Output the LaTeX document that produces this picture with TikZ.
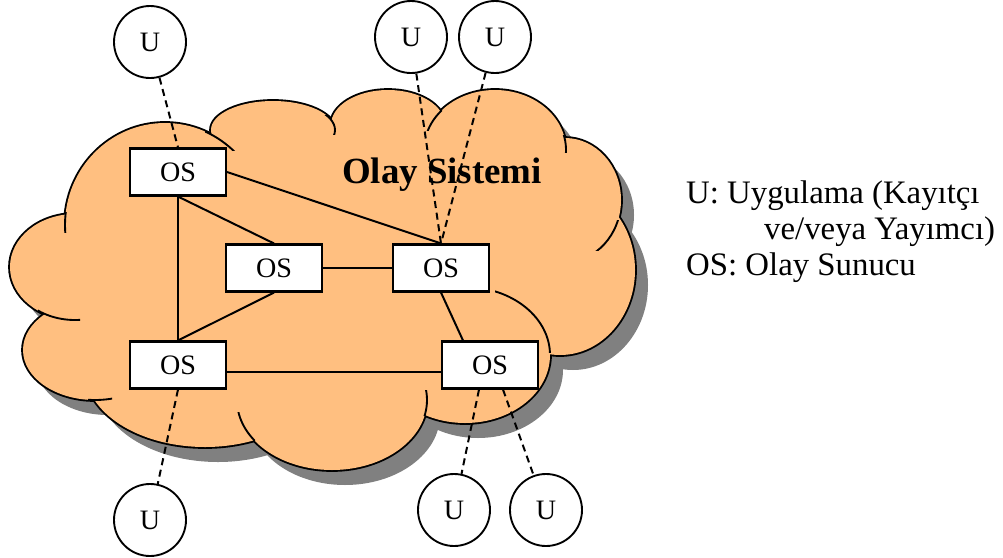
\documentclass[tikz,border=0pt]{standalone}
\usepackage{fontspec}
\setmainfont{Liberation Serif}
\usepackage{tikz}
\usetikzlibrary{calc}

\definecolor{cloudorange}{RGB}{255,191,128}
\definecolor{cloudshadow}{RGB}{128,128,128}

\newcommand{\cloudbumps}{75/267/65/53, 165/225/100/102, 273/130/62/29, 388/125/57/35,
  495/150/71/60, 565/200/56/62, 560/270/75/85, 465/355/85/68, 332/400/95/70,
  205/370/120/77, 95/350/72/50}

\tikzset{
  osbox/.style={draw, line width=1.8pt, fill=white, minimum width=2.88cm, minimum height=1.41cm,
    inner sep=0pt, font=\fontsize{24}{24}\selectfont},
  ububble/.style={draw, circle, line width=1.6pt, fill=white, minimum size=2.16cm,
    inner sep=0pt, font=\fontsize{24}{24}\selectfont},
  cloudline/.style={line width=1.6pt},
  link/.style={line width=1.7pt},
  ulink/.style={line width=1.7pt, dash pattern=on 6pt off 4pt},
  legend/.style={anchor=base west, inner sep=0pt, font=\fontsize{28}{28}\selectfont}
}

\begin{document}
\begin{tikzpicture}[x=0.03cm, y=-0.03cm]
    \useasboundingbox (0,0) rectangle (1003,558);

    % shadow
    \foreach \cx/\cy/\rx/\ry in \cloudbumps
        \fill[cloudshadow] (\cx+13,\cy+15) ellipse [x radius=\rx, y radius=\ry];
    \fill[cloudshadow, shift={(13,15)}] (90,270) -- (170,160) -- (275,140) -- (390,130) -- (495,135) -- (560,180)
        -- (590,240) -- (545,330) -- (465,390) -- (330,440) -- (205,420) -- (95,370) -- cycle;

    % cloud
    \foreach \cx/\cy/\rx/\ry in \cloudbumps
        \draw[line width=3.2pt] (\cx,\cy) ellipse [x radius=\rx, y radius=\ry];
    \foreach \cx/\cy/\rx/\ry in \cloudbumps
        \fill[cloudorange] (\cx,\cy) ellipse [x radius=\rx, y radius=\ry];
    \fill[cloudorange] (90,270) -- (170,160) -- (275,140) -- (390,130) -- (495,135) -- (560,180)
        -- (590,240) -- (545,330) -- (465,390) -- (330,440) -- (205,420) -- (95,370) -- cycle;

    % inner curls
    \foreach \cx/\cy/\rx/\ry/\xa/\ya/\xb/\yb in {165/225/100/102/60/212/72/232, 165/225/100/102/205/130/235/150,
        273/130/62/29/320/115/340/134, 495/150/71/60/420/108/442/130, 495/150/71/60/555/135/570/152,
        565/200/56/62/588/220/625/250, 465/355/85/68/495/288/556/352, 332/400/95/70/415/390/432/415,
        332/400/95/70/230/412/255/440, 95/350/72/50/88/390/112/402, 75/267/65/53/38/300/80/322}
    {
        \begin{scope}
            \clip (\xa,\ya) rectangle (\xb,\yb);
            \draw[cloudline] (\cx,\cy) ellipse [x radius=\rx, y radius=\ry];
        \end{scope}
    }

    \node[anchor=base, inner sep=0pt, font=\bfseries\fontsize{31.5}{32}\selectfont] (title) at (442,183) {Olay Sistemi};

    \node[osbox] (os1) at (178,172) {OS};
    \node[osbox] (os2) at (274,268) {OS};
    \node[osbox] (os3) at (441,268) {OS};
    \node[osbox] (os4) at (178,365) {OS};
    \node[osbox] (os5) at (490,365) {OS};

    \node[ububble] (u1) at (150,42) {U};
    \node[ububble] (u2) at (411,37) {U};
    \node[ububble] (u3) at (495,37) {U};
    \node[ububble] (u4) at (150,520) {U};
    \node[ububble] (u5) at (454,510) {U};
    \node[ububble] (u6) at (546,510) {U};

    \draw[link] (os1.east) -- (os3.north);
    \draw[link] (os1.south) -- (os2.north);
    \draw[link] (os1.south) -- (os4.north);
    \draw[link] (os2.south) -- (os4.north);
    \draw[link] (os2.east) -- (os3.west);
    \draw[link] (os3.south) -- ($(os5.north)+(-27,0)$);
    \draw[link] ($(os4.east)+(0,7)$) -- ($(os5.west)+(0,7)$);

    \draw[ulink] (u1) -- (os1.north);
    \draw[ulink] (u2) -- (os3.north);
    \draw[ulink] (u3) -- (os3.north);
    \draw[ulink] (os4.south) -- (u4);
    \draw[ulink] ($(os5.south)+(-11,0)$) -- (u5);
    \draw[ulink] ($(os5.south)+(13,0)$) -- (u6);

    \node[legend] (leg1) at (686,203) {U: Uygulama (Kayıtçı};
    \node[legend] (leg2) at (764,239) {ve/veya Yayımcı)};
    \node[legend] (leg3) at (686,275) {OS: Olay Sunucu};
\end{tikzpicture}
\end{document}
